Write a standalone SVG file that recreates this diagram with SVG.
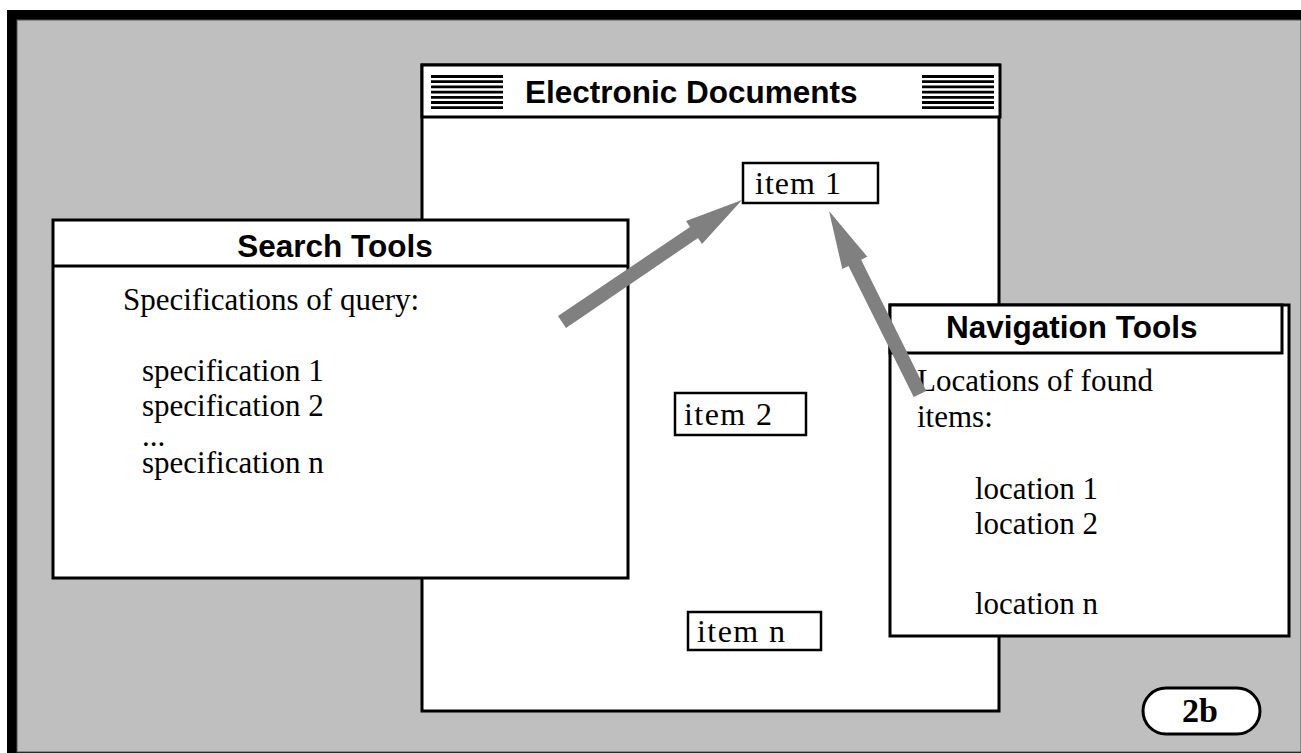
<svg xmlns="http://www.w3.org/2000/svg" width="1301" height="753" viewBox="0 0 1301 753">
  <defs>
    <style>
      .box { fill: #ffffff; stroke: #000000; stroke-width: 3; }
      .thin { fill: #ffffff; stroke: #000000; stroke-width: 2.5; }
      .title { font-family: "Liberation Sans", Arial, sans-serif; font-weight: bold; font-size: 31.5px; fill: #000000; }
      .body { font-family: "Liberation Serif", "Times New Roman", serif; font-size: 31px; fill: #000000; }
      .item { font-family: "Liberation Serif", "Times New Roman", serif; font-size: 32px; fill: #000000; }
      .hatch { stroke: #000000; stroke-width: 2.8; }
      .arrow { fill: #808080; stroke: none; }
    </style>
  </defs>

  <!-- backdrop with black frame on top and left -->
  <rect x="0" y="0" width="1301" height="753" fill="#ffffff"/>
  <rect x="7" y="10" width="1294" height="743" fill="#000000"/>
  <rect x="17" y="20" width="1284" height="732" fill="#bfbfbf" stroke="#555555" stroke-width="1"/>

  <!-- document window -->
  <g id="electronic-documents">
    <rect class="box" x="422" y="65" width="577" height="646"/>
    <rect class="box" x="422" y="65" width="578" height="52"/>
    <g class="hatch">
      <line x1="431" y1="76.5" x2="503" y2="76.5"/>
      <line x1="431" y1="81.7" x2="503" y2="81.7"/>
      <line x1="431" y1="86.9" x2="503" y2="86.9"/>
      <line x1="431" y1="92.1" x2="503" y2="92.1"/>
      <line x1="431" y1="97.3" x2="503" y2="97.3"/>
      <line x1="431" y1="102.5" x2="503" y2="102.5"/>
      <line x1="431" y1="107.7" x2="503" y2="107.7"/>
      <line x1="922" y1="76.5" x2="994" y2="76.5"/>
      <line x1="922" y1="81.7" x2="994" y2="81.7"/>
      <line x1="922" y1="86.9" x2="994" y2="86.9"/>
      <line x1="922" y1="92.1" x2="994" y2="92.1"/>
      <line x1="922" y1="97.3" x2="994" y2="97.3"/>
      <line x1="922" y1="102.5" x2="994" y2="102.5"/>
      <line x1="922" y1="107.7" x2="994" y2="107.7"/>
    </g>
    <text class="title" x="525" y="103">Electronic Documents</text>
  </g>

  <g id="item-1">
    <rect class="thin" x="743" y="163" width="135" height="40"/>
    <text class="item" x="755" y="194" textLength="86">item 1</text>
  </g>
  <g id="item-2">
    <rect class="thin" x="675" y="393" width="131" height="42"/>
    <text class="item" x="684" y="425" textLength="88">item 2</text>
  </g>
  <g id="item-n">
    <rect class="thin" x="688" y="612" width="133" height="38"/>
    <text class="item" x="697" y="642" textLength="88">item n</text>
  </g>

  <!-- query panel -->
  <g id="search-tools">
    <rect class="box" x="53" y="220" width="575" height="358"/>
    <line x1="53" y1="266" x2="628" y2="266" stroke="#000000" stroke-width="3"/>
    <text class="title" x="335" y="257" text-anchor="middle">Search Tools</text>
    <text class="body" x="123" y="310">Specifications of query:</text>
    <text class="body" x="142" y="381">specification 1</text>
    <text class="body" x="142" y="416">specification 2</text>
    <text class="body" x="142" y="446">...</text>
    <text class="body" x="142" y="473">specification n</text>
  </g>

  <!-- navigation panel -->
  <g id="navigation-tools">
    <rect class="box" x="890" y="305" width="399" height="331"/>
    <rect class="box" x="890" y="305" width="392" height="48"/>
    <text class="title" x="946" y="338">Navigation Tools</text>
    <text class="body" x="917" y="391">Locations of found</text>
    <text class="body" x="917" y="427">items:</text>
    <text class="body" x="975" y="499">location 1</text>
    <text class="body" x="975" y="534">location 2</text>
    <text class="body" x="975" y="614">location n</text>
  </g>

  <!-- wide gray arrows pointing at item 1 -->
  <g id="connectors">
    <polygon class="arrow" points="558,316 690,227 686,221 742,200 702,244 698,238 566,328"/>
    <polygon class="arrow" points="913.7,397.1 848.5,266 842.3,269.1 829,211 867.3,256.7 861.1,259.8 926.3,390.9"/>
  </g>

  <g id="figure-label">
    <rect x="1143" y="688" width="117" height="46" rx="23" ry="23" fill="#ffffff" stroke="#000000" stroke-width="3"/>
    <text x="1200" y="722" text-anchor="middle" font-family="'Liberation Serif', 'Times New Roman', serif" font-weight="bold" font-size="34">2b</text>
  </g>
</svg>
